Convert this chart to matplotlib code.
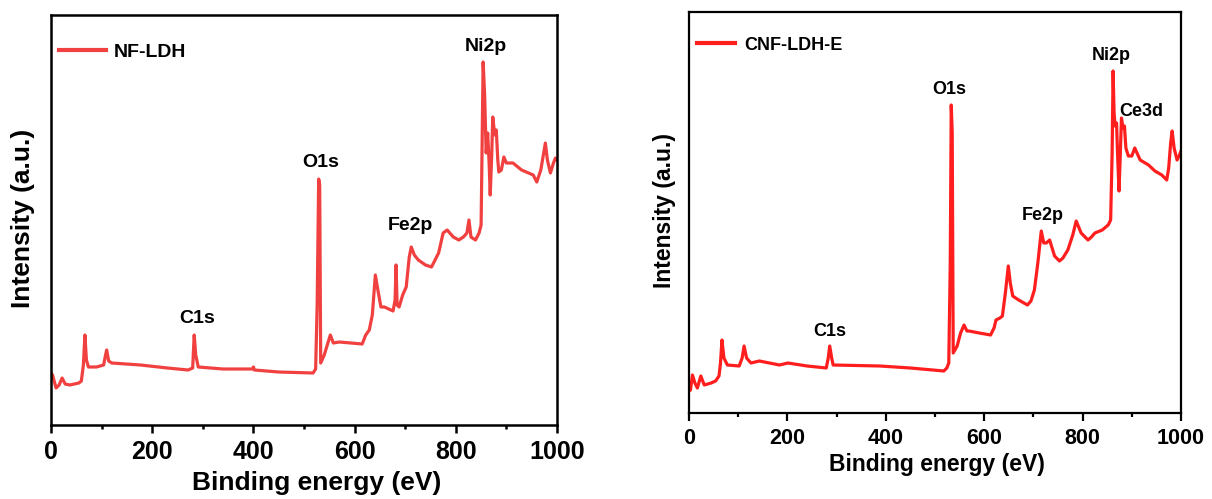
import matplotlib
matplotlib.use("Agg")
import matplotlib.pyplot as plt
import numpy as np

# ---------------- data ----------------
left_label = "NF-LDH"
left_E = [0, 3, 10, 16, 22, 28, 37, 55, 60, 64, 67, 70, 74, 90, 104, 107, 110, 114, 120, 177,
          230, 271, 280, 283, 286, 291, 340, 398, 400, 402, 450, 518, 523, 526, 529, 531, 533,
          540, 552, 558, 570, 615, 622, 629, 635, 641, 646, 652, 659, 676, 680, 682, 684, 688,
          695, 702, 708, 712, 718, 726, 740, 752, 766, 775, 783, 795, 806, 815, 822, 826, 830,
          839, 846, 850, 852, 854, 857, 860, 863, 866, 868, 871, 873, 877, 880, 883, 885, 890,
          895, 900, 913, 930, 953, 960, 968, 973, 977, 981, 987, 993, 997, 1000]
left_I = [52, 50, 37, 40, 47, 41, 40, 42, 44, 60, 90, 65, 58, 58, 60, 68, 75, 64, 62, 60,
          57, 55, 57, 90, 70, 58, 56, 56, 58, 55, 53, 52, 56, 120, 246, 240, 62,
          70, 90, 82, 83, 81, 90, 95, 110, 150, 135, 118, 118, 114, 125, 160, 120, 118,
          130, 138, 168, 178, 170, 165, 160, 158, 172, 192, 195, 188, 185, 188, 192, 205, 188,
          185, 192, 200, 280, 363, 330, 272, 292, 260, 230, 270, 308, 290, 295, 265, 253, 255,
          268, 262, 262, 255, 250, 243, 255, 270, 282, 265, 252, 262, 267, 265]

right_label = "CNF-LDH-E"
right_E = [0, 3, 7, 12, 17, 24, 31, 45, 54, 61, 64, 67, 71, 78, 102, 108, 112, 117, 126, 143,
           184, 201, 240, 279, 283, 286, 290, 293, 388, 450, 518, 524, 528, 531, 533, 535, 537,
           545, 552, 559, 565, 569, 590, 613, 620, 624, 632, 637, 643, 649, 653, 658, 670, 688,
           695, 702, 709, 716, 721, 726, 733, 738, 743, 753, 760, 770, 780, 787, 797, 811, 818,
           825, 840, 852, 857, 860, 862, 864, 866, 869, 871, 874, 876, 879, 882, 885, 888, 893,
           900, 906, 917, 934, 947, 961, 971, 975, 979, 982, 986, 992, 997, 1000]
right_I = [22, 23, 38, 30, 25, 37, 28, 30, 32, 37, 50, 73, 55, 48, 47, 55, 67, 55, 50, 52,
           48, 50, 47, 45, 55, 67, 55, 48, 47, 45, 42, 45, 50, 150, 308, 280, 60,
           67, 80, 88, 82, 82, 80, 78, 85, 93, 95, 97, 120, 147, 130, 117, 113, 108,
           112, 123, 150, 182, 170, 170, 173, 165, 157, 152, 155, 163, 178, 192, 180, 173, 176,
           180, 183, 188, 193, 260, 342, 300, 287, 290, 260, 222, 250, 295, 285, 287, 265, 257,
           257, 265, 253, 248, 242, 238, 233, 245, 270, 282, 265, 253, 258, 262]

left_peaks = ["C1s", "O1s", "Fe2p", "Ni2p"]
left_peak_E = [288, 532, 710, 860]
left_peak_I = [106, 262, 199, 378]

right_peaks = ["C1s", "O1s", "Fe2p", "Ni2p", "Ce3d"]
right_peak_E = [286, 528, 720, 859, 920]
right_peak_I = [81, 323, 197, 357, 301]

xticks = [0, 200, 400, 600, 800, 1000]
xlabel = "Binding energy (eV)"
ylabel = "Intensity (a.u.)"

# ---------------- figure ----------------
W, H = 1212, 499
fig = plt.figure(figsize=(W / 100, H / 100), dpi=100)
fig.patch.set_facecolor("white")
FONT = "Liberation Sans"


def px_axes(x0, y0, x1, y1):
    return fig.add_axes([x0 / W, 1 - y1 / H, (x1 - x0) / W, (y1 - y0) / H])


def style(ax, E, I, color, label, peaks, pE, pI, ylim, tick_fs, ann_fs, leg_fs,
          hlen, hpad, leg_y, spw, lw, pad):
    ax.plot(E, I, color=color, lw=lw, label=label, solid_joinstyle="round")
    ax.set_xlim(0, 1000)
    ax.set_ylim(*ylim)
    ax.set_xticks(xticks)
    ax.set_xticks(np.arange(100, 1000, 200), minor=True)
    ax.set_yticks([])
    ax.tick_params(axis="x", which="major", direction="out", length=6, width=spw,
                   labelsize=tick_fs, pad=pad)
    ax.tick_params(axis="x", which="minor", direction="out", length=3, width=spw)
    for lab in ax.get_xticklabels():
        lab.set_fontfamily(FONT)
        lab.set_fontweight("bold")
    for s in ax.spines.values():
        s.set_linewidth(spw)
    for t, x, y in zip(peaks, pE, pI):
        ax.text(x, y, t, ha="center", va="center", fontsize=ann_fs,
                fontweight="bold", family=FONT)
    leg = ax.legend(loc="center left", bbox_to_anchor=(0.016, leg_y), frameon=False,
                    borderaxespad=0, borderpad=0, handlelength=hlen, handletextpad=hpad,
                    prop={"family": FONT, "weight": "bold", "size": leg_fs})
    for line in leg.get_lines():
        line.set_linewidth(3)


axL = px_axes(51, 15, 557, 425)
style(axL, left_E, left_I, "#F04040", left_label, left_peaks, left_peak_E, left_peak_I,
      (0, 410), 18, 14, 14, 2.4, 0.4, 0.91, 1.8, 2.3, 5)

axR = px_axes(689, 12, 1181, 413)
style(axR, right_E, right_I, "#FF1E1E", right_label, right_peaks, right_peak_E, right_peak_I,
      (0, 401), 15.5, 13, 13, 2.1, 0.55, 0.9175, 1.6, 2.3, 5)

# axis labels
fig.text(317 / W, 1 - 483 / H, xlabel, ha="center", va="center", fontsize=19,
         fontweight="bold", family=FONT)
fig.text(23 / W, 1 - 218 / H, ylabel, ha="center", va="center", rotation=90, fontsize=19,
         fontweight="bold", family=FONT)
fig.text(937 / W, 1 - 465 / H, xlabel, ha="center", va="center", fontsize=16.5,
         fontweight="bold", family=FONT)
fig.text(665 / W, 1 - 210 / H, ylabel, ha="center", va="center", rotation=90, fontsize=16.5,
         fontweight="bold", family=FONT)

fig.savefig("out.png", dpi=100)
